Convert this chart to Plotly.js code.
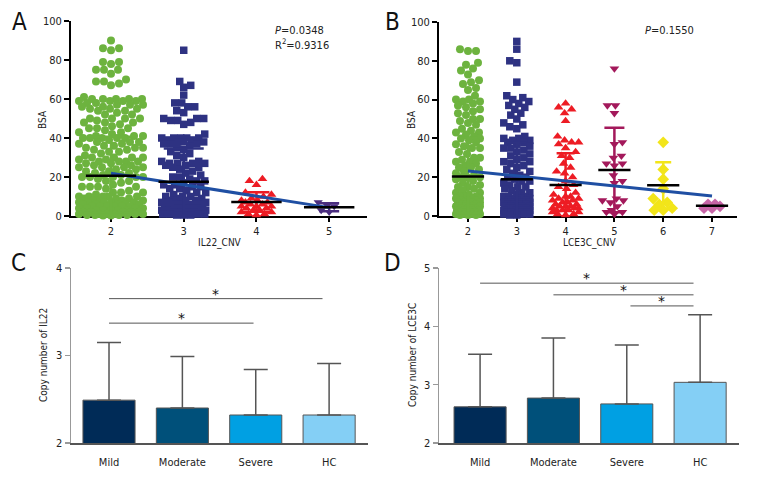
<!DOCTYPE html>
<html><head><meta charset="utf-8">
<script src="https://cdn.plot.ly/plotly-3.0.1.min.js"></script>
<style>html,body{margin:0;padding:0;background:#fff}#chart{width:780px;height:480px}</style>
</head><body><div id="chart"></div>
<script>
const FONT = "'Liberation Sans Narrow','Arial Narrow','DejaVu Sans Condensed',sans-serif";

// ---------- Panel A: BSA by IL22 CNV ----------
const il22Groups = [2, 3, 4, 5];
const il22_cnv2 = [90,86,86,85,79,79,78,75,75,75,73,70,69,69,68,67,
  61,60,60,60,60,60,59,59,59,59,58,58,57,57,57,56,56,55,55,55,54,54,53,52,52,50,50,50,50,49,48,48,48,47,46,
  45,45,45,44,43,43,42,41,41,41,40,40,40,40,40,39,38,38,38,37,37,36,36,35,35,35,34,34,
  33,33,32,31,30,30,30,30,29,29,28,28,28,28,27,27,26,26,25,25,25,25,24,24,23,23,22,22,21,21,20,20,20,20,20,
  19,18,18,17,16,15,15,15,15,14,13,12,12,12,11,10,10,10,10,10,9,9,9,8,8,8,8,
  7,7,7,7,7,6,6,6,6,6,5,5,5,5,5,5,4,4,4,4,3,3,3,3,3,2,2,2,2,2,1,1,1,1,1,1,0.5,0.5,0.5,0.5,0.3,0.3];
const il22_cnv3 = [85,69,67,66,62,58,58,56,56,54,53,50,50,50,49,49,48,47,42,
  40,40,40,40,40,39,39,38,38,38,37,37,37,36,35,34,33,32,31,30,28,28,27,27,27,27,26,26,25,25,24,23,22,21,
  20,20,19,18,18,17,16,16,15,15,14,14,13,12,12,11,10,10,10,9,9,8,8,8,7,7,7,
  6,6,6,6,5,5,5,5,4,4,4,4,3,3,3,3,2,2,2,2,1,1,1,1,0.5,0.5,0.5];
const il22_cnv4 = [19,18,16,12,11,10,9,8,8,7,7,6,6,5,5,5,4,4,3,3,2,2,1,1,0.5];
const il22_cnv5 = [7,6,5,3,2];
const il22Mean = [20.7, 17.6, 7.2, 4.5];
const il22SD = [20, 17, 5, 2];
const il22FitX = [2, 5];
const il22FitY = [21.9, 4.3];

// ---------- Panel B: BSA by LCE3C CNV ----------
const lce3cGroups = [2, 3, 4, 5, 6, 7];
const lce3c_cnv2 = [86,85,85,79,78,76,75,73,70,69,68,66,65,62,60,60,59,59,58,57,56,55,54,53,52,
  50,50,49,48,47,45,44,43,43,42,41,40,40,39,38,37,36,35,35,33,32,30,30,29,28,28,27,26,25,25,
  24,23,22,21,20,20,20,19,18,17,16,15,15,14,13,12,12,11,10,10,10,9,9,9,8,8,8,7,7,7,7,
  6,6,6,6,5,5,5,5,5,4,4,4,4,3,3,3,3,2,2,2,2,1,1,1,1,0.5,0.5,0.5];
const lce3c_cnv3 = [90,86,80,79,69,62,61,60,59,58,57,56,55,53,52,50,48,47,46,45,41,40,40,39,39,
  38,38,37,36,35,35,34,33,32,31,30,29,28,28,27,26,25,24,23,22,21,20,20,19,18,18,17,16,15,15,
  14,13,12,12,11,10,10,10,9,9,9,8,8,8,7,7,7,7,6,6,6,6,5,5,5,5,5,4,4,4,4,3,3,3,3,2,2,2,2,1,1,1,1,0.5,0.5];
const lce3c_cnv4 = [58,56,55,53,49,41,39,38,38,37,35,33,31,30,27,25,23,22,20,18,16,15,14,12,11,
  10,10,9,9,8,8,7,7,6,6,5,5,5,4,4,4,3,3,3,2,2,1,1,0.5];
const lce3c_cnv5 = [76,57,57,53,38,37,31,30,27,27,26,21,18,17,9,8,8,7,5,3,2,2,1];
const lce3c_cnv6 = [38,24,19,14,9,7,6,4,3,3];
const lce3c_cnv7 = [6,6,5,4,4];
const lce3cMean = [20.3, 18.9, 16.0, 23.7, 15.8, 5.3];
const lce3cSD = [20, 19, 16.3, 21.8, 11.9, 1];
const lce3cFitX = [2, 7];
const lce3cFitY = [23.2, 10.3];

// ---------- Panels C, D: copy number by severity ----------
const severity = ['Mild', 'Moderate', 'Severe', 'HC'];
const il22Copy = [2.49, 2.40, 2.32, 2.32];
const il22CopySD = [0.66, 0.59, 0.52, 0.59];
const lce3cCopy = [2.62, 2.77, 2.67, 3.04];
const lce3cCopySD = [0.90, 1.03, 1.01, 1.16];
// significance brackets (category index from / to, height)
const cSigFrom = [0, 0], cSigTo = [2.91, 1.97], cSigY = [3.65, 3.37];
const dSigFrom = [0, 1, 2.05], dSigTo = [2.91, 2.91, 2.91], dSigY = [4.74, 4.54, 4.35];

// ---------- styling ----------
const W = 780, H = 480;
const axA = {xd:[71/W,367/W], xr:[1.45,5.52], yd:[1-216/H,1-21/H], yr:[0,100]};
const axB = {xd:[439/W,737/W], xr:[1.406,7.512], yd:[1-216/H,1-22/H], yr:[0,100]};
const axC = {xd:[71/W,368/W], xr:[-0.518,3.53], yd:[1-443/H,1-268/H], yr:[2,4]};
const axD = {xd:[439/W,739/W], xr:[-0.56,3.53], yd:[1-443/H,1-268/H], yr:[2,5]};
const pxScale = a => ({
  x: (a.xd[1]-a.xd[0])*W/(a.xr[1]-a.xr[0]),
  y: (a.yd[1]-a.yd[0])*H/(a.yr[1]-a.yr[0])
});

const GREEN='#6db33f', NAVY='#2e3282', RED='#ed1c24', PURPLE='#4a2d7f',
      MAROON='#a3195b', YELLOW='#f2e51a', PINK='#c765a7', BLUE='#1f4fa3';
const styleA = [
  {c:GREEN, s:'circle', size:8, max:32, cap:20},
  {c:NAVY, s:'square', size:7.5, max:22, cap:20},
  {c:RED, s:'triangle-up', size:8.5, max:15, cap:13},
  {c:PURPLE, s:'triangle-down', size:8, max:12, cap:10}
];
const styleB = [
  {c:GREEN, s:'circle', size:8, max:12, cap:10},
  {c:NAVY, s:'square', size:7.5, max:13, cap:10},
  {c:RED, s:'triangle-up', size:8.5, max:13, cap:9},
  {c:MAROON, s:'triangle-down', size:8.5, max:12, cap:10},
  {c:YELLOW, s:'diamond', size:9, max:10, cap:8},
  {c:PINK, s:'diamond', size:9, max:8, cap:6}
];

// deterministic beeswarm: x offsets (data units) computed from the values
function swarm(vals, sc, diam, maxOff) {
  const idx = vals.map((v,i)=>i).sort((a,b)=>vals[a]-vals[b]);
  const placed = [], off = new Array(vals.length);
  const base = [0];
  for (let o=1;o<=maxOff;o++){ base.push(o); base.push(-o); }
  const minDist = diam*0.92;
  idx.forEach((i,k)=>{
    const yp = vals[i]*sc.y;
    const sign = (k%2)?-1:1;
    let best=0, bestScore=-1;
    for (const b of base){
      const o = b*sign;
      let m = Infinity;
      for (const p of placed){
        const dy = p[1]-yp; if (Math.abs(dy) >= minDist) continue;
        const d = Math.hypot(p[0]-o, dy); if (d<m) m=d;
      }
      if (m >= minDist){ best=o; bestScore=Infinity; break; }
      if (m > bestScore){ bestScore=m; best=o; }
    }
    placed.push([best,yp]); off[i]=best/sc.x;
  });
  return off;
}

const traces = [];
function scatterPanel(groups, series, styles, means, sds, fitX, fitY, ax, xa, ya, meanSize) {
  const sc = pxScale(ax);
  series.forEach((vals,g)=>{
    const st = styles[g];
    const off = swarm(vals, sc, st.size, st.max);
    traces.push({type:'scatter', mode:'markers', xaxis:xa, yaxis:ya, cliponaxis:false,
      x: vals.map((v,i)=>groups[g]+off[i]), y: vals,
      marker:{color:st.c, symbol:st.s, size:st.size, line:{width:0}}, hoverinfo:'skip'});
  });
  series.forEach((vals,g)=>{
    const st = styles[g];
    traces.push({type:'scatter', mode:'markers', xaxis:xa, yaxis:ya, cliponaxis:false,
      x:[groups[g]], y:[means[g]], marker:{opacity:0, size:2},
      error_y:{type:'data', array:[sds[g]], visible:true, color:st.c, thickness:2.5, width:st.cap},
      hoverinfo:'skip'});
  });
  traces.push({type:'scatter', mode:'lines', xaxis:xa, yaxis:ya, x:fitX, y:fitY,
    line:{color:BLUE, width:3}, hoverinfo:'skip'});
  traces.push({type:'scatter', mode:'markers', xaxis:xa, yaxis:ya, cliponaxis:false,
    x:groups, y:means, marker:{symbol:'line-ew', size:meanSize, color:'#000', line:{color:'#000', width:2.5}},
    hoverinfo:'skip'});
}
scatterPanel(il22Groups, [il22_cnv2, il22_cnv3, il22_cnv4, il22_cnv5], styleA, il22Mean, il22SD,
  il22FitX, il22FitY, axA, 'x', 'y', 36);
scatterPanel(lce3cGroups, [lce3c_cnv2, lce3c_cnv3, lce3c_cnv4, lce3c_cnv5, lce3c_cnv6, lce3c_cnv7],
  styleB, lce3cMean, lce3cSD, lce3cFitX, lce3cFitY, axB, 'x2', 'y2', 23);

const barColors = ['#002b57', '#00507a', '#00a0e3', '#84cff5'];
function barPanel(vals, sds, xa, ya) {
  traces.push({type:'bar', xaxis:xa, yaxis:ya, x:[0,1,2,3], y:vals, width:0.71,
    marker:{color:barColors, line:{color:'#555', width:1}},
    error_y:{type:'data', symmetric:false, array:sds, arrayminus:sds.map(()=>0),
      color:'#555', thickness:1.5, width:12}, hoverinfo:'skip'});
}
barPanel(il22Copy, il22CopySD, 'x3', 'y3');
barPanel(lce3cCopy, lce3cCopySD, 'x4', 'y4');

const shapes = [], annotations = [];
function sig(from, to, ys, xa, ya) {
  from.forEach((f,i)=>{
    shapes.push({type:'line', xref:xa, yref:ya, x0:f, x1:to[i], y0:ys[i], y1:ys[i],
      line:{color:'#555', width:1}});
    annotations.push({xref:xa, yref:ya, x:(f+to[i])/2, y:ys[i], text:'*', showarrow:false,
      yanchor:'middle', yshift:5, font:{family:'DejaVu Sans', size:14, color:'#111'}});
  });
}
sig(cSigFrom, cSigTo, cSigY, 'x3', 'y3');
sig(dSigFrom, dSigTo, dSigY, 'x4', 'y4');

function txt(text, px, py, opts) {
  annotations.push(Object.assign({xref:'paper', yref:'paper', x:px/W, y:1-py/H, text:text,
    showarrow:false, xanchor:'center', yanchor:'middle',
    font:{family:FONT, size:10, color:'#222'}}, opts||{}));
}
const bigFont = {family:FONT, size:24, color:'#111'};
txt('A', 19, 22, {font:bigFont});
txt('B', 392, 22, {font:bigFont});
txt('C', 18, 263, {font:bigFont});
txt('D', 392, 263, {font:bigFont});
txt('BSA', 42, 120, {textangle:-90});
txt('BSA', 411, 120, {textangle:-90});
txt('IL22_CNV', 220, 243);
txt('LCE3C_CNV', 589, 243);
txt('Copy number of IL22', 43, 355, {textangle:-90});
txt('Copy number of LCE3C', 412, 355, {textangle:-90});
const pFont = {family:FONT, size:11, color:'#222'};
txt('<i>P</i>=0.0348', 273, 30, {xanchor:'left', font:pFont});
txt('R<sup>2</sup>=0.9316', 273, 44, {xanchor:'left', font:pFont});
txt('<i>P</i>=0.1550', 643, 30, {xanchor:'left', font:pFont});

const tickFont = {family:FONT, size:11, color:'#222'};
const blackAxis = (a, isX, extra) => Object.assign({
  domain: isX ? a.xd : a.yd, range: isX ? a.xr : a.yr, showgrid:false, zeroline:false,
  showline:true, linecolor:'#000', linewidth:2, ticks:'outside', ticklen: isX ? 4 : 5, tickwidth:2,
  tickcolor:'#000', tickfont:tickFont, layer:'below traces', fixedrange:true}, extra||{});
const greyAxisY = (a, extra) => Object.assign({
  domain:a.yd, range:a.yr, showgrid:false, zeroline:false, showline:true, linecolor:'#999',
  linewidth:1.5, ticks:'outside', ticklen:5, tickwidth:1.5, tickcolor:'#999', tickfont:tickFont,
  fixedrange:true}, extra||{});
const greyAxisX = (a, extra) => Object.assign({
  domain:a.xd, range:a.xr, showgrid:false, zeroline:false, showline:true, linecolor:'#555',
  linewidth:1.5, ticks:'outside', ticklen:8, tickcolor:'rgba(0,0,0,0)', tickfont:tickFont,
  tickvals:[0,1,2,3], ticktext:severity, fixedrange:true}, extra||{});

const layout = {
  width:W, height:H, autosize:false, margin:{l:0,r:0,t:0,b:0},
  paper_bgcolor:'#fff', plot_bgcolor:'rgba(0,0,0,0)', showlegend:false, hovermode:false,
  font:{family:FONT},
  xaxis: blackAxis(axA, true, {anchor:'y', tickvals:il22Groups}),
  yaxis: blackAxis(axA, false, {anchor:'x', tickvals:[0,20,40,60,80,100]}),
  xaxis2: blackAxis(axB, true, {anchor:'y2', tickvals:lce3cGroups}),
  yaxis2: blackAxis(axB, false, {anchor:'x2', tickvals:[0,20,40,60,80,100]}),
  xaxis3: greyAxisX(axC, {anchor:'y3'}),
  yaxis3: greyAxisY(axC, {anchor:'x3', tickvals:[2,3,4]}),
  xaxis4: greyAxisX(axD, {anchor:'y4'}),
  yaxis4: greyAxisY(axD, {anchor:'x4', tickvals:[2,3,4,5]}),
  shapes: shapes, annotations: annotations, bargap:0.29
};
Plotly.newPlot('chart', traces, layout, {staticPlot:true, displayModeBar:false});
</script></body></html>
